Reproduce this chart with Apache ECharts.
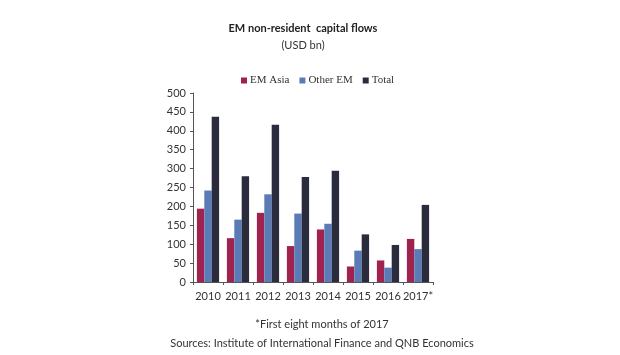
<!DOCTYPE html>
<html><head><meta charset="utf-8">
<script src="https://cdn.jsdelivr.net/npm/echarts@6/dist/echarts.min.js"></script>
<style>html,body{margin:0;padding:0;background:#fff}#c{width:620px;height:355px}</style>
</head><body><div id="c"></div>
<script>
const categories = ['2010','2011','2012','2013','2014','2015','2016','2017*'];
const emAsia  = [194,116,183,95,139,41,57,114];
const otherEM = [242,165,232,181,154,83,38,87];
const total   = [437,280,416,278,294,126,98,204];
const yTicks = {min:0, max:500, interval:50};

const chart = echarts.init(document.getElementById('c'));
chart.setOption({
  animation:false,
  backgroundColor:'#fff',
  title:[
    {text:'EM non-resident  capital flows', left:298, top:18, textAlign:'center',
     textStyle:{fontFamily:'Lato',fontSize:11,fontWeight:'bold',color:'#222'}},
    {text:'(USD bn)', left:298, top:35, textAlign:'center',
     textStyle:{fontFamily:'Lato',fontSize:11,fontWeight:'normal',color:'#333'}},
    {text:'*First eight months of 2017', left:317, top:314, textAlign:'center',
     textStyle:{fontFamily:'Lato',fontSize:11,fontWeight:'normal',color:'#333'}},
    {text:'Sources: Institute of International Finance and QNB Economics', left:317, top:333, textAlign:'center',
     textStyle:{fontFamily:'Lato',fontSize:11,fontWeight:'normal',color:'#333'}}
  ],
  legend:{top:70, left:236, itemWidth:6, itemHeight:6, itemGap:10,
    icon:'rect',
    textStyle:{fontFamily:'Liberation Serif',fontSize:11,color:'#333',padding:[0,0,0,-2]},
    data:['EM Asia','Other EM','Total']},
  grid:{left:193, right:187, top:93, bottom:73},
  xAxis:{type:'category', data:categories,
    axisLine:{lineStyle:{color:'#555'}},
    axisTick:{show:true, length:3, lineStyle:{color:'#555'}},
    axisLabel:{fontFamily:'Lato',fontSize:11,color:'#333',margin:9,interval:0}},
  yAxis:{type:'value', min:yTicks.min, max:yTicks.max, interval:yTicks.interval,
    splitLine:{show:false},
    axisLine:{show:true,lineStyle:{color:'#555'}},
    axisTick:{show:true,length:3,lineStyle:{color:'#555'}},
    axisLabel:{fontFamily:'Lato',fontSize:11,color:'#333',margin:7}},
  series:[
    {name:'EM Asia', type:'bar', data:emAsia, itemStyle:{color:'#A0224E'}, barGap:'0%', barCategoryGap:'26%'},
    {name:'Other EM', type:'bar', data:otherEM, itemStyle:{color:'#5A7BB6'}},
    {name:'Total', type:'bar', data:total, itemStyle:{color:'#2A2C3D'}}
  ]
});
</script></body></html>
